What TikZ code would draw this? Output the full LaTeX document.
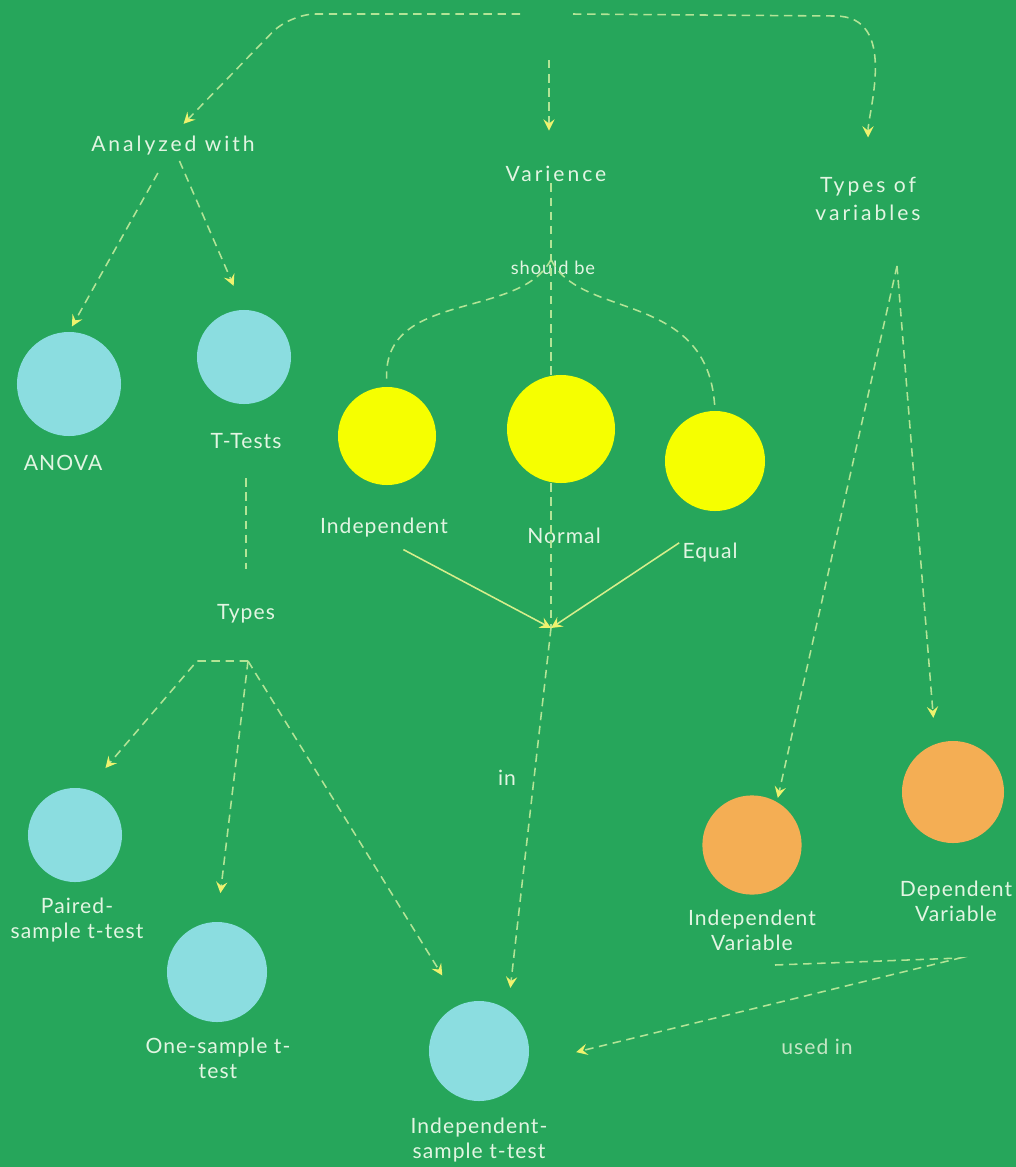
\documentclass[tikz,border=0pt]{standalone}
\usepackage{fontspec}
\setmainfont{Lato}
\usepackage{xcolor}
\usepackage{tikz}
\usetikzlibrary{arrows.meta,calc,positioning}

\definecolor{bggreen}{RGB}{38,166,91}
\definecolor{testblue}{RGB}{139,221,224}
\definecolor{condyellow}{RGB}{246,255,0}
\definecolor{varorange}{RGB}{244,174,84}
\definecolor{labeltext}{RGB}{226,245,226}
\definecolor{dimtext}{RGB}{196,230,196}
\definecolor{dashgreen}{RGB}{178,228,150}
\definecolor{tipyellow}{RGB}{238,242,110}
\definecolor{solidline}{RGB}{214,238,140}

\newfontfamily\headfont[LetterSpace=14]{Lato}
\newfontfamily\labelfont[LetterSpace=5]{Lato}

\begin{document}
\begin{tikzpicture}[x=0.025cm, y=-0.025cm,
	dasharrow/.style = {draw=dashgreen, line width=1.1pt, dash pattern=on 6pt off 4pt, -{Stealth[length=8pt,width=8pt,inset=3pt,color=tipyellow]}},
	dashline/.style = {draw=dashgreen, line width=1.1pt, dash pattern=on 6pt off 4pt},
	solidarrow/.style = {draw=solidline, line width=1.1pt, -{Stealth[length=8pt,width=8pt,inset=3pt,color=tipyellow]}}]
		\tikzset{bubble/.style={circle,inner sep=0pt,draw=none},
			head/.style={text=labeltext,align=center,inner sep=1pt,font=\headfont\fontsize{15}{20}\selectfont},
			lbl/.style={text=labeltext,align=center,inner sep=1pt,font=\labelfont\fontsize{15}{18}\selectfont}}

		% background
		\fill[bggreen] (0,0) rectangle (1016,1167);
		\useasboundingbox (0,0) rectangle (1016,1167);

		% headings
		\node[head] (analyzed) at (173,146) {Analyzed with};
		\node[head] (varience) at (556,174) {Varience};
		\node[head] (typesvar) at (868,199) {Types of\\variables};

		% tests
		\node[bubble, fill=testblue, minimum size=2.6cm] (anova) at (69,384) {};
		\node[lbl] (anovalbl) at (63,463) {ANOVA};
		\node[bubble, fill=testblue, minimum size=2.35cm] (ttests) at (244,357) {};
		\node[lbl] (ttestslbl) at (246,441) {T-Tests};
		\node[lbl] (types) at (246,614) {Types};

		\node[bubble, fill=testblue, minimum size=2.35cm] (paired) at (75,835) {};
		\node[lbl] (pairedlbl) at (77,920) {Paired-\\sample t-test};
		\node[bubble, fill=testblue, minimum size=2.5cm] (onesample) at (217,972) {};
		\node[lbl] (onesamplelbl) at (218,1058) {One-sample t-\\test};
		\node[bubble, fill=testblue, minimum size=2.5cm] (indsample) at (479,1051) {};
		\node[lbl] (indsamplelbl) at (479,1140) {Independent-\\sample t-test};

		% conditions
		\node[lbl] (shouldbe) at (553,268) {\fontsize{13}{15}\selectfont should be};
		\node[bubble, fill=condyellow, minimum size=2.45cm] (indep) at (387,436) {};
		\node[lbl] (indeplbl) at (384,528) {Independent};
		\node[bubble, fill=condyellow, minimum size=2.7cm] (normal) at (561,429) {};
		\node[lbl] (normallbl) at (564,536) {Normal};
		\node[bubble, fill=condyellow, minimum size=2.5cm] (equal) at (715,461) {};
		\node[lbl] (equallbl) at (710,553) {Equal};
		\coordinate (conv) at (551,628);
		\node[lbl] (inlbl) at (507,778) {in};

		% variables
		\node[bubble, fill=varorange, minimum size=2.48cm] (indvar) at (752,845) {};
		\node[lbl] (indvarlbl) at (752,930) {Independent\\Variable};
		\node[bubble, fill=varorange, minimum size=2.55cm] (depvar) at (953,792) {};
		\node[lbl] (depvarlbl) at (956,901) {Dependent\\Variable};
		\node[lbl, text=dimtext] (usedinlbl) at (817,1047) {used in};

		% free ends
		\coordinate (topL) at (520,14);
		\coordinate (bendL) at (290,14);
		\coordinate (topM) at (549,60);
		\coordinate (topR) at (573,14);
		\coordinate (bendR) at (835,16);
		\coordinate (typesjoin) at (248,661);
		\coordinate (typescorner) at (197,661);
		\coordinate (tvjoin) at (897,266);
		\coordinate (usedstart) at (775,965);
		\coordinate (usedjoin) at (960,958);

		% arrows
		\draw [dasharrow, rounded corners=18pt, shorten >=0.38cm] (topL) -- (bendL) -- (analyzed.north);
		\draw [dasharrow, shorten >=0.85cm] (topM) -- (topM |- varience.north);
		\draw [dasharrow, shorten >=0.95cm] (topR) -- (bendR) to[out=0,in=90] (typesvar.north);

		\draw [dasharrow, shorten <=0.45cm, shorten >=0.15cm] (analyzed) -- (anova.north);
		\draw [dasharrow, shorten <=0.1cm, shorten >=0.65cm] (analyzed) -- (ttests.north);

		\draw [dashline] (varience.south -| conv) -- (normal.north -| conv);
		\draw [dashline, shorten >=0.2cm] (shouldbe.north -| conv) .. controls (520,320) and (383,290) .. (indep.north);
		\draw [dashline, shorten >=0.1cm] (shouldbe.north -| conv) .. controls (580,320) and (708,290) .. (equal.north);
		\draw [dashline] (normal.south -| conv) -- (conv);
		\draw [solidarrow, shorten <=0.55cm] (indeplbl.south) -- (conv);
		\draw [solidarrow, shorten <=0.05cm] (equallbl.north west) -- (conv);
		\draw [dasharrow, shorten >=0.55cm] (conv) -- (indsample.55);

		\draw [dashline, shorten <=0.7cm, shorten >=0.85cm] (ttestslbl.south) -- (types.north);
		\draw [dasharrow, shorten >=0.7cm] (typesjoin) -- (typescorner) -- (paired.75);
		\draw [dasharrow, shorten >=0.72cm] (typesjoin) -- (onesample.north);
		\draw [dasharrow, shorten >=0.85cm] (typesjoin) -- (indsample.112);

		\draw [dasharrow, shorten >=0.1cm] (tvjoin) -- (indvar.60);
		\draw [dasharrow, shorten >=0.65cm] (tvjoin) -- (depvar.110);

		\draw [dasharrow, shorten >=1.25cm] (usedstart) -- (usedjoin) -- (indsample.-15);

	\end{tikzpicture}
\end{document}
